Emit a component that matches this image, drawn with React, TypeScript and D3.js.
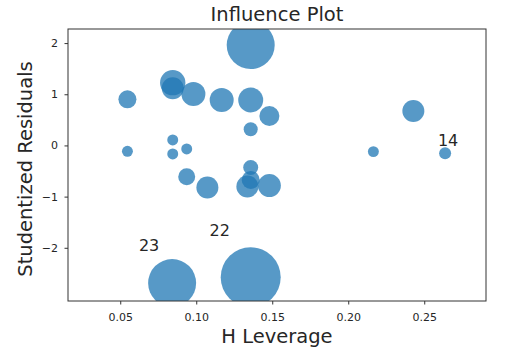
import React from "react";
import * as d3 from "d3";

const leverage = [0.1355, 0.0842, 0.0842, 0.0978, 0.0544, 0.1164, 0.1355, 0.1478, 0.1355, 0.0842, 0.0544, 0.0842, 0.0934, 0.1355, 0.0934, 0.1355, 0.107, 0.1333, 0.1478, 0.2425, 0.2162, 0.2634, 0.0838, 0.1355];
const residuals = [1.97, 1.236, 1.127, 1.016, 0.912, 0.898, 0.898, 0.586, 0.326, 0.117, -0.104, -0.156, -0.059, -0.42, -0.6, -0.664, -0.814, -0.794, -0.775, 0.684, -0.111, -0.143, -2.68, -2.565];
const influence = [576, 161, 121, 144, 81, 144, 156, 100, 49, 30, 30, 30, 30, 56, 72, 81, 121, 121, 132, 121, 30, 36, 576, 900];
const pointIds = [0, 1, 2, 3, 4, 5, 6, 7, 8, 9, 10, 11, 12, 13, 15, 16, 17, 18, 19, 20, 21, 14, 23, 22];
const labelIds = [14, 22, 23];
const labelDx = [3, -31, -23];
const labelDy = [-13, -47, -38];
const xTicks = [0.05, 0.1, 0.15, 0.2, 0.25];
const yTicks = [-2, -1, 0, 1, 2];

export default function App() {
  const W = 512, H = 357;
  const m = { l: 68, r: 486, t: 29, b: 301 };
  const x = d3.scaleLinear().domain([0.0153, 0.2903]).range([m.l, m.r]);
  const y = d3.scaleLinear().domain([-3.03, 2.285]).range([m.b, m.t]);
  const r = d3.scaleSqrt().domain([0, 900]).range([0, 30]);
  const font = "DejaVu Sans, sans-serif";
  const txt = "#262626";
  return (
    <svg width={W} height={H} style={{ position: "absolute", left: 0, top: 0, background: "#fff" }}>
      <defs>
        <clipPath id="plot">
          <rect x={m.l} y={m.t} width={m.r - m.l} height={m.b - m.t} />
        </clipPath>
      </defs>
      <g clipPath="url(#plot)">
        {leverage.map((lv, i) => (
          <circle key={i} cx={x(lv)} cy={y(residuals[i])} r={r(influence[i])} fill="#1f77b4" fillOpacity={0.75} />
        ))}
      </g>
      {labelIds.map((id, k) => {
        const i = pointIds.indexOf(id);
        return (
          <text key={id} x={x(leverage[i]) + labelDx[k]} y={y(residuals[i]) + labelDy[k]} textAnchor="middle" dominantBaseline="central" fontFamily={font} fontSize={16} fill={txt}>
            {id}
          </text>
        );
      })}
      <rect x={m.l} y={m.t} width={m.r - m.l} height={m.b - m.t} fill="none" stroke="#333" strokeWidth={1} />
      {xTicks.map((t) => (
        <g key={t}>
          <line x1={x(t)} x2={x(t)} y1={m.b} y2={m.b + 3.5} stroke="#333" />
          <text x={x(t)} y={m.b + 19.5} textAnchor="middle" fontFamily={font} fontSize={11} fill={txt}>
            {t.toFixed(2)}
          </text>
        </g>
      ))}
      {yTicks.map((t) => (
        <g key={t}>
          <line x1={m.l - 3.5} x2={m.l} y1={y(t)} y2={y(t)} stroke="#333" />
          <text x={m.l - 10} y={y(t)} textAnchor="end" dominantBaseline="central" fontFamily={font} fontSize={11} fill={txt}>
            {t < 0 ? "\u2212" + Math.abs(t) : t}
          </text>
        </g>
      ))}
      <text x={(m.l + m.r) / 2} y={21} textAnchor="middle" fontFamily={font} fontSize={19.5} fill={txt}>
        Influence Plot
      </text>
      <text x={(m.l + m.r) / 2} y={343} textAnchor="middle" fontFamily={font} fontSize={19.5} fill={txt}>
        H Leverage
      </text>
      <text transform={`translate(32,${(55 + 283) / 2}) rotate(-90)`} textAnchor="middle" fontFamily={font} fontSize={19.5} fill={txt}>
        Studentized Residuals
      </text>
    </svg>
  );
}
